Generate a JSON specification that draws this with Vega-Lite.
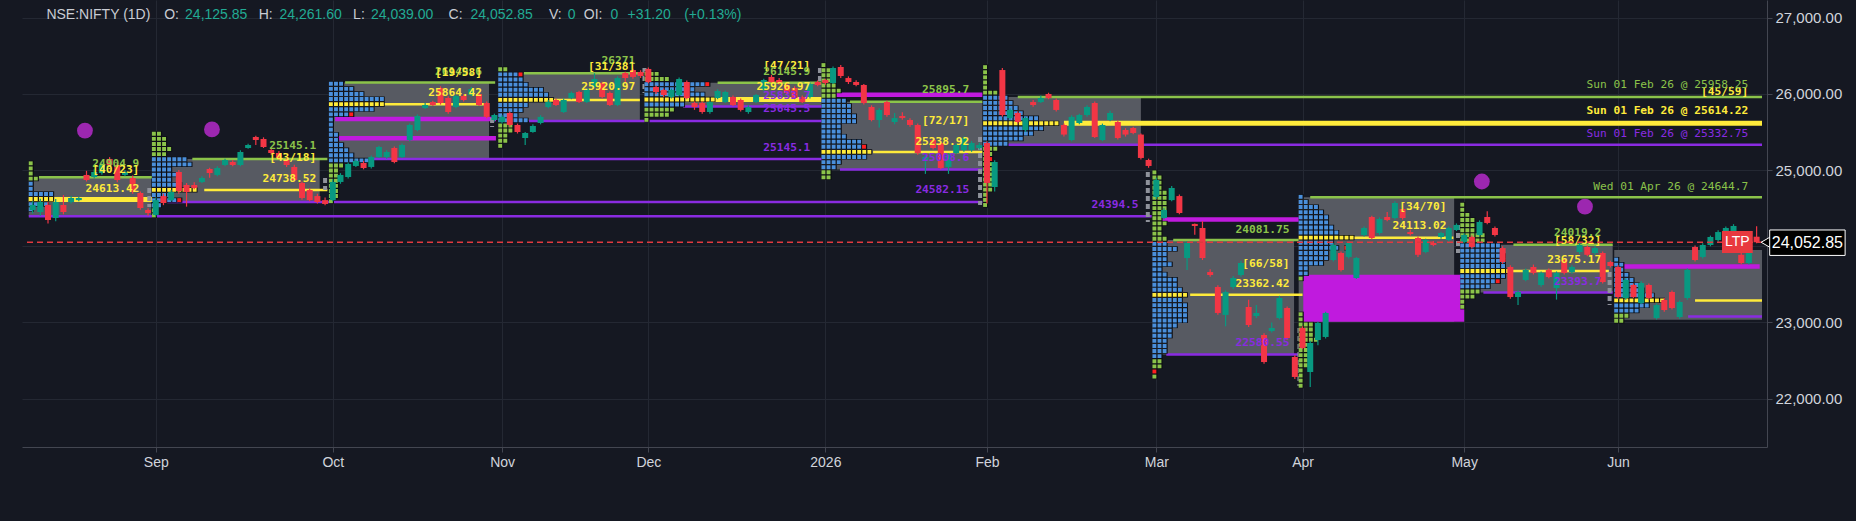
{
"$schema":"https://vega.github.io/schema/vega-lite/v6.json",
"width":1745,"height":447,
"autosize":{"type":"none"},
"padding":{"left":22,"top":0,"right":89,"bottom":74},
"background":"#151822",
"config":{"view":{"stroke":null},
 "axis":{"grid":true,"gridColor":"#242833","gridWidth":1,"domainColor":"#434651","tickColor":"#434651","tickSize":5,"labelColor":"#d1d4dc","labelFont":"Liberation Sans","labelPadding":3,"labelFlush":false,"labelOverlap":false},
 "axisX":{"labelFontSize":14},"axisY":{"labelFontSize":15}},
"resolve":{"scale":{"color":"independent"}},
"datasets":{
"candles":[
{"i":-16,"o":24476,"h":24590,"l":24430,"c":24542},{"i":-15,"o":24450,"h":24625,"l":24400,"c":24581},{"i":-14,"o":24542,"h":24580,"l":24300,"c":24345},{"i":-13,"o":24371,"h":24620,"l":24330,"c":24581},{"i":-12,"o":24542,"h":24672,"l":24420,"c":24450},{"i":-11,"o":24581,"h":24660,"l":24560,"c":24634},{"i":-10,"o":24606,"h":24650,"l":24590,"c":24634},{"i":-9,"o":24936,"h":24990,"l":24850,"c":24870},{"i":-8,"o":24909,"h":25010,"l":24890,"c":24975},{"i":-7,"o":24962,"h":25100,"l":24940,"c":25067},{"i":-6,"o":25146,"h":25170,"l":25050,"c":25067},{"i":-5,"o":25067,"h":25090,"l":24840,"c":24870},{"i":-4,"o":24936,"h":25000,"l":24920,"c":24975},{"i":-3,"o":24896,"h":24930,"l":24690,"c":24712},{"i":-2,"o":24699,"h":24720,"l":24480,"c":24502},{"i":-1,"o":24476,"h":24500,"l":24400,"c":24437},
{"i":0,"o":24411,"h":24640,"l":24390,"c":24606},{"i":1,"o":24659,"h":24690,"l":24540,"c":24568},{"i":2,"o":24606,"h":24740,"l":24590,"c":24712},{"i":3,"o":24975,"h":25000,"l":24690,"c":24725},{"i":4,"o":24804,"h":24830,"l":24520,"c":24712},{"i":5,"o":24804,"h":24840,"l":24750,"c":24765},{"i":6,"o":24844,"h":24920,"l":24830,"c":24896},{"i":7,"o":25014,"h":25030,"l":24900,"c":24962},{"i":8,"o":24936,"h":25050,"l":24920,"c":25027},{"i":9,"o":25067,"h":25150,"l":25050,"c":25132},{"i":10,"o":25106,"h":25130,"l":25050,"c":25067},{"i":11,"o":25067,"h":25260,"l":25050,"c":25237},{"i":12,"o":25290,"h":25345,"l":25280,"c":25329},{"i":13,"o":25434,"h":25450,"l":25330,"c":25395},{"i":14,"o":25408,"h":25430,"l":25290,"c":25303},{"i":15,"o":25264,"h":25290,"l":25200,"c":25224},{"i":16,"o":25224,"h":25250,"l":25140,"c":25159},{"i":17,"o":25132,"h":25160,"l":25040,"c":25067},{"i":18,"o":25041,"h":25070,"l":24850,"c":24870},{"i":19,"o":24831,"h":24850,"l":24610,"c":24634},{"i":20,"o":24738,"h":24760,"l":24590,"c":24606},{"i":21,"o":24659,"h":24690,"l":24560,"c":24581},{"i":22,"o":24606,"h":24640,"l":24540,"c":24555},
{"i":23,"o":24606,"h":24880,"l":24590,"c":24844},{"i":24,"o":24844,"h":24960,"l":24820,"c":24936},{"i":25,"o":24909,"h":25100,"l":24890,"c":25080},{"i":26,"o":25054,"h":25140,"l":25040,"c":25119},{"i":27,"o":25093,"h":25120,"l":25010,"c":25027},{"i":28,"o":25041,"h":25190,"l":25020,"c":25172},{"i":29,"o":25172,"h":25320,"l":25160,"c":25303},{"i":30,"o":25172,"h":25260,"l":25150,"c":25237},{"i":31,"o":25290,"h":25310,"l":25090,"c":25106},{"i":32,"o":25172,"h":25350,"l":25160,"c":25329},{"i":33,"o":25395,"h":25610,"l":25380,"c":25592},{"i":34,"o":25526,"h":25730,"l":25510,"c":25710},{"i":35,"o":25815,"h":25880,"l":25800,"c":25854},{"i":36,"o":25893,"h":25910,"l":25840,"c":25854},{"i":37,"o":26077,"h":26100,"l":25860,"c":25880},{"i":38,"o":25946,"h":25970,"l":25740,"c":25762},{"i":39,"o":25828,"h":25990,"l":25810,"c":25972},{"i":40,"o":25972,"h":25995,"l":25900,"c":25920},{"i":41,"o":25985,"h":26090,"l":25970,"c":26064},{"i":42,"o":25998,"h":26020,"l":25840,"c":25854},{"i":43,"o":25880,"h":25900,"l":25680,"c":25698},{"i":44,"o":25657,"h":25740,"l":25640,"c":25723},
{"i":45,"o":25631,"h":25720,"l":25610,"c":25698},{"i":46,"o":25749,"h":25770,"l":25570,"c":25592},{"i":47,"o":25592,"h":25610,"l":25480,"c":25500},{"i":48,"o":25421,"h":25500,"l":25330,"c":25487},{"i":49,"o":25500,"h":25600,"l":25490,"c":25579},{"i":50,"o":25618,"h":25720,"l":25600,"c":25698},{"i":51,"o":25828,"h":25920,"l":25810,"c":25893},{"i":52,"o":25920,"h":25940,"l":25840,"c":25854},{"i":53,"o":25762,"h":25940,"l":25750,"c":25920},{"i":54,"o":25946,"h":26030,"l":25930,"c":26012},{"i":55,"o":26025,"h":26040,"l":25880,"c":25893},{"i":56,"o":25893,"h":26080,"l":25880,"c":26064},{"i":57,"o":26090,"h":26271,"l":26080,"c":26195},{"i":58,"o":26143,"h":26160,"l":25940,"c":25959},{"i":59,"o":26012,"h":26030,"l":25840,"c":25854},{"i":60,"o":25854,"h":26230,"l":25840,"c":26208},{"i":61,"o":26274,"h":26290,"l":26150,"c":26208},{"i":62,"o":26313,"h":26330,"l":26200,"c":26222},{"i":63,"o":26287,"h":26310,"l":26210,"c":26235},
{"i":64,"o":26327,"h":26345,"l":26140,"c":26156},{"i":65,"o":26090,"h":26110,"l":26000,"c":26025},{"i":66,"o":26051,"h":26070,"l":25960,"c":25985},{"i":67,"o":25959,"h":26070,"l":25940,"c":26051},{"i":68,"o":25985,"h":26215,"l":25970,"c":26195},{"i":69,"o":26156,"h":26175,"l":25930,"c":25946},{"i":70,"o":25880,"h":25900,"l":25790,"c":25828},{"i":71,"o":25880,"h":25900,"l":25740,"c":25762},{"i":72,"o":25762,"h":25910,"l":25740,"c":25893},{"i":73,"o":25946,"h":26060,"l":25930,"c":26038},{"i":74,"o":25893,"h":26040,"l":25880,"c":26025},{"i":75,"o":25959,"h":25980,"l":25840,"c":25854},{"i":76,"o":25920,"h":25940,"l":25770,"c":25789},{"i":77,"o":25762,"h":25850,"l":25740,"c":25828},{"i":78,"o":25893,"h":26000,"l":25880,"c":25985},{"i":79,"o":26051,"h":26200,"l":26040,"c":26182},{"i":80,"o":26222,"h":26250,"l":26140,"c":26156},{"i":81,"o":26182,"h":26210,"l":26120,"c":26143},{"i":82,"o":26117,"h":26140,"l":26000,"c":26012},{"i":83,"o":26077,"h":26100,"l":25930,"c":25946},{"i":84,"o":25959,"h":25980,"l":25880,"c":25893},{"i":85,"o":25959,"h":26150,"l":25940,"c":26130},{"i":86,"o":26156,"h":26175,"l":26100,"c":26117},
{"i":87,"o":26182,"h":26200,"l":26120,"c":26143},{"i":88,"o":26143,"h":26360,"l":26130,"c":26340},{"i":89,"o":26353,"h":26380,"l":26210,"c":26235},{"i":90,"o":26208,"h":26230,"l":26130,"c":26156},{"i":91,"o":26156,"h":26180,"l":26100,"c":26117},{"i":92,"o":26117,"h":26130,"l":25860,"c":25880},{"i":93,"o":25828,"h":25850,"l":25640,"c":25657},{"i":94,"o":25657,"h":25810,"l":25560,"c":25789},{"i":95,"o":25893,"h":25910,"l":25700,"c":25723},{"i":96,"o":25631,"h":25750,"l":25600,"c":25683},{"i":97,"o":25710,"h":25760,"l":25660,"c":25683},{"i":98,"o":25657,"h":25680,"l":25570,"c":25592},{"i":99,"o":25592,"h":25610,"l":25200,"c":25224},{"i":100,"o":25132,"h":25200,"l":24950,"c":25172},{"i":101,"o":25395,"h":25420,"l":25270,"c":25290},{"i":102,"o":25356,"h":25380,"l":25010,"c":25027},{"i":103,"o":25041,"h":25220,"l":24950,"c":25198},{"i":104,"o":25224,"h":25350,"l":25210,"c":25329},{"i":105,"o":25264,"h":25440,"l":25240,"c":25421},{"i":106,"o":25264,"h":25380,"l":25240,"c":25356},{"i":107,"o":25290,"h":25360,"l":25270,"c":25329},
{"i":108,"o":25356,"h":25380,"l":24560,"c":24831},{"i":109,"o":24778,"h":25130,"l":24720,"c":25106},{"i":110,"o":26313,"h":26340,"l":25700,"c":25723},{"i":111,"o":25683,"h":25810,"l":25660,"c":25789},{"i":112,"o":25749,"h":25770,"l":25610,"c":25631},{"i":113,"o":25526,"h":25700,"l":25500,"c":25683},{"i":114,"o":25893,"h":25920,"l":25830,"c":25854},{"i":115,"o":25893,"h":25980,"l":25880,"c":25946},{"i":116,"o":25998,"h":26015,"l":25930,"c":25946},{"i":117,"o":25920,"h":25940,"l":25770,"c":25789},{"i":118,"o":25592,"h":25610,"l":25440,"c":25466},{"i":119,"o":25395,"h":25720,"l":25380,"c":25698},{"i":120,"o":25618,"h":25740,"l":25600,"c":25723},{"i":121,"o":25723,"h":25850,"l":25700,"c":25828},{"i":122,"o":25880,"h":25900,"l":25420,"c":25434},{"i":123,"o":25395,"h":25610,"l":25380,"c":25592},{"i":124,"o":25657,"h":25780,"l":25640,"c":25749},{"i":125,"o":25631,"h":25650,"l":25400,"c":25421},{"i":126,"o":25526,"h":25550,"l":25440,"c":25466},{"i":127,"o":25552,"h":25570,"l":25470,"c":25487},{"i":128,"o":25466,"h":25480,"l":25140,"c":25159},{"i":129,"o":25132,"h":25150,"l":25030,"c":25054},
{"i":130,"o":24647,"h":24900,"l":24620,"c":24870},{"i":131,"o":24371,"h":24500,"l":24350,"c":24476},{"i":132,"o":24606,"h":24790,"l":24590,"c":24765},{"i":133,"o":24659,"h":24680,"l":24420,"c":24437},{"i":134,"o":23846,"h":24070,"l":23690,"c":24043},{"i":135,"o":24293,"h":24300,"l":24150,"c":24266},{"i":136,"o":24240,"h":24330,"l":23820,"c":23846},{"i":137,"o":23662,"h":23700,"l":23600,"c":23623},{"i":138,"o":23466,"h":23490,"l":23100,"c":23125},{"i":139,"o":23099,"h":23420,"l":22950,"c":23400},{"i":140,"o":23466,"h":23610,"l":23440,"c":23584},{"i":141,"o":23623,"h":23810,"l":23600,"c":23781},{"i":142,"o":23203,"h":23300,"l":22940,"c":22967},{"i":143,"o":23085,"h":23230,"l":23060,"c":23125},{"i":144,"o":22836,"h":22860,"l":22460,"c":22481},{"i":145,"o":22888,"h":23000,"l":22870,"c":22928},{"i":146,"o":23059,"h":23350,"l":23040,"c":23321},{"i":147,"o":23190,"h":23210,"l":22770,"c":22796},{"i":148,"o":22547,"h":22570,"l":22260,"c":22285},
{"i":149,"o":22928,"h":22950,"l":22650,"c":22665},{"i":150,"o":22350,"h":22760,"l":22153,"c":22731},{"i":151,"o":22770,"h":23010,"l":22700,"c":22993},{"i":152,"o":22810,"h":23140,"l":22790,"c":23125},{"i":153,"o":23820,"h":24040,"l":23800,"c":24017},{"i":154,"o":23912,"h":23930,"l":23670,"c":23689},{"i":155,"o":23860,"h":24060,"l":23840,"c":24043},{"i":156,"o":23584,"h":23860,"l":23570,"c":23846},{"i":157,"o":24148,"h":24260,"l":24130,"c":24240},{"i":158,"o":24384,"h":24400,"l":24090,"c":24109},{"i":159,"o":24174,"h":24380,"l":24150,"c":24358},{"i":160,"o":24384,"h":24450,"l":24330,"c":24345},{"i":161,"o":24371,"h":24590,"l":24350,"c":24568},{"i":162,"o":24489,"h":24510,"l":24350,"c":24371},{"i":163,"o":24187,"h":24220,"l":24140,"c":24161},{"i":164,"o":24109,"h":24130,"l":23860,"c":23888},{"i":165,"o":23925,"h":24100,"l":23910,"c":24082},{"i":166,"o":24043,"h":24070,"l":24000,"c":24017},{"i":167,"o":24122,"h":24190,"l":24100,"c":24174},{"i":168,"o":24082,"h":24260,"l":24060,"c":24240},{"i":169,"o":24214,"h":24300,"l":24200,"c":24280},
{"i":170,"o":24056,"h":24170,"l":24040,"c":24148},{"i":171,"o":24122,"h":24140,"l":23970,"c":23991},{"i":172,"o":24148,"h":24340,"l":24130,"c":24319},{"i":173,"o":24384,"h":24460,"l":24290,"c":24306},{"i":174,"o":24240,"h":24260,"l":24130,"c":24148},{"i":175,"o":23977,"h":24000,"l":23770,"c":23794},{"i":176,"o":23728,"h":23750,"l":23310,"c":23334},{"i":177,"o":23334,"h":23420,"l":23230,"c":23400},{"i":178,"o":23558,"h":23710,"l":23540,"c":23689},{"i":179,"o":23728,"h":23760,"l":23630,"c":23650},{"i":180,"o":23492,"h":23670,"l":23470,"c":23650},{"i":181,"o":23689,"h":23710,"l":23580,"c":23597},{"i":182,"o":23452,"h":23670,"l":23300,"c":23650},{"i":183,"o":23820,"h":23840,"l":23630,"c":23650},{"i":184,"o":23662,"h":23750,"l":23640,"c":23728},{"i":185,"o":23925,"h":24040,"l":23900,"c":24017},{"i":186,"o":23991,"h":24010,"l":23870,"c":23888},{"i":187,"o":23912,"h":24000,"l":23890,"c":23977},{"i":188,"o":23912,"h":23930,"l":23510,"c":23531},{"i":189,"o":23794,"h":23810,"l":23720,"c":23741},
{"i":190,"o":23728,"h":23750,"l":23310,"c":23334},{"i":191,"o":23321,"h":23580,"l":23300,"c":23558},{"i":192,"o":23492,"h":23510,"l":23320,"c":23334},{"i":193,"o":23256,"h":23540,"l":23240,"c":23518},{"i":194,"o":23492,"h":23510,"l":23300,"c":23321},{"i":195,"o":23059,"h":23250,"l":23040,"c":23229},{"i":196,"o":23295,"h":23320,"l":23140,"c":23164},{"i":197,"o":23400,"h":23420,"l":23170,"c":23190},{"i":198,"o":23072,"h":23290,"l":23050,"c":23269},{"i":199,"o":23321,"h":23710,"l":23300,"c":23689},{"i":200,"o":23991,"h":24010,"l":23800,"c":23820},{"i":201,"o":23860,"h":24040,"l":23840,"c":24017},{"i":202,"o":24017,"h":24140,"l":24000,"c":24122},{"i":203,"o":24082,"h":24210,"l":24060,"c":24187},{"i":204,"o":24135,"h":24260,"l":24110,"c":24240},{"i":205,"o":24161,"h":24290,"l":24140,"c":24266},{"i":206,"o":23888,"h":24000,"l":23760,"c":23781},{"i":207,"o":23781,"h":24100,"l":23760,"c":24017},{"i":208,"o":24125.85,"h":24261.6,"l":24039,"c":24052.85}
],
"boxes":[
{"a":-16.5,"b":-0.6,"p1":24394.5,"p2":24904.9,"k":"va"},{"a":-0.5,"b":21.3,"p1":24582.15,"p2":25145.1,"k":"va"},{"a":22.5,"b":43.3,"p1":25145.1,"p2":26149.6,"k":"va"},{"a":44.5,"b":62.9,"p1":25645.5,"p2":26271,"k":"va"},{"a":63.5,"b":86.6,"p1":25833.7,"p2":26145.9,"k":"va"},{"a":86.5,"b":107.4,"p1":25008.6,"p2":25895.7,"k":"va"},{"a":107.5,"b":128,"p1":25332.75,"p2":25958.25,"k":"va"},{"a":129.5,"b":147.9,"p1":22580.55,"p2":24081.75,"k":"va"},{"a":148.5,"b":168.7,"p1":23010,"p2":24644.7,"k":"va"},{"a":169.5,"b":189.3,"p1":23393.7,"p2":24019.2,"k":"va"},{"a":189.5,"b":208.7,"p1":23036,"p2":23952,"k":"va"},
{"a":149.1,"b":170,"p1":23010,"p2":23627,"k":"sp"}
],
"lines":[
{"a":-15.3,"b":-0.5,"p":24904.9,"k":"vah"},{"a":4.75,"b":22.3,"p":25145.1,"k":"vah"},{"a":24.6,"b":44.1,"p":26149.6,"k":"vah"},{"a":47.8,"b":62.9,"p":26271,"k":"vah"},{"a":73,"b":86.6,"p":26145.9,"k":"vah"},{"a":90.2,"b":107.4,"p":25895.7,"k":"vah"},{"a":112,"b":208.7,"p":25958.25,"k":"vah"},{"a":132.2,"b":149,"p":24081.75,"k":"vah"},{"a":150,"b":208.7,"p":24644.7,"k":"vah"},{"a":176.4,"b":189.3,"p":24019.2,"k":"vah"},
{"a":6.3,"b":22.3,"p":24738.52,"k":"poc"},{"a":29,"b":43.3,"p":25864.42,"k":"poc"},{"a":51.5,"b":62.9,"p":25920.97,"k":"poc"},{"a":93.2,"b":107.4,"p":25238.92,"k":"poc"},{"a":134.4,"b":149,"p":23362.42,"k":"poc"},{"a":155.7,"b":168.6,"p":24113.02,"k":"poc"},{"a":175.9,"b":188.8,"p":23675.17,"k":"poc"},{"a":200,"b":208.7,"p":23290,"k":"poc"},
{"a":-16.5,"b":-0.4,"p":24613.42,"k":"pocT"},{"a":72,"b":86.6,"p":25926.97,"k":"pocT"},{"a":118,"b":208.7,"p":25614.22,"k":"pocT"},
{"a":-16.5,"b":129.4,"p":24394.5,"k":"val"},{"a":1.5,"b":107.4,"p":24582.15,"k":"val"},{"a":28.2,"b":86.7,"p":25145.1,"k":"val"},{"a":48.5,"b":86.7,"p":25645.5,"k":"val"},{"a":68.5,"b":86.6,"p":25833.7,"k":"val"},{"a":88.9,"b":107.4,"p":25008.6,"k":"val"},{"a":110.5,"b":208.7,"p":25332.75,"k":"val"},{"a":131.3,"b":149,"p":22580.55,"k":"val"},{"a":172.5,"b":189.3,"p":23393.7,"k":"val"},{"a":199.1,"b":208.7,"p":23080,"k":"val"},
{"a":23.3,"b":44.2,"p":25669,"k":"mag"},{"a":23.3,"b":44.2,"p":25419,"k":"mag"},{"a":88,"b":107.4,"p":25987,"k":"mag"},{"a":130.4,"b":149,"p":24352,"k":"mag"},{"a":190.4,"b":208.4,"p":23736,"k":"mag"}
],
"marks":[
{"i":-0.84,"p1":24765,"p2":24516},{"i":22.0,"p1":24896,"p2":24738},{"i":43.7,"p1":25683,"p2":25566},{"i":63.5,"p1":26340,"p2":26012},{"i":86.3,"p1":26340,"p2":26117},{"i":107.1,"p1":25434,"p2":24542},{"i":128.9,"p1":24975,"p2":24319},{"i":148.6,"p1":22928,"p2":22167},{"i":169.2,"p1":24280,"p2":23912},{"i":188.9,"p1":23662,"p2":23229}
],
"prof":[
{"a":-16.5,"b":-15.84,"p":25089,"k":"g"},{"a":-16.5,"b":-15.84,"p":25022,"k":"g"},{"a":-16.5,"b":-15.84,"p":24955,"k":"g"},{"a":-16.5,"b":-15.18,"p":24888,"k":"g"},{"a":-16.5,"b":-15.84,"p":24821,"k":"b"},{"a":-16.5,"b":-15.84,"p":24754,"k":"b"},{"a":-16.5,"b":-13.2,"p":24687,"k":"b"},{"a":-16.5,"b":-13.2,"p":24620,"k":"y"},{"a":-16.5,"b":-13.86,"p":24553,"k":"b"},{"a":-16.5,"b":-15.84,"p":24486,"k":"b"},
{"a":-0.5,"b":0.82,"p":25477,"k":"g"},{"a":-0.5,"b":1.48,"p":25410,"k":"g"},{"a":-0.5,"b":1.48,"p":25343,"k":"g"},{"a":-0.5,"b":2.14,"p":25276,"k":"g"},{"a":-0.5,"b":1.48,"p":25209,"k":"g"},{"a":-0.5,"b":4.11,"p":25142,"k":"b"},{"a":-0.5,"b":4.77,"p":25075,"k":"b"},{"a":-0.5,"b":2.14,"p":25008,"k":"b"},{"a":-0.5,"b":2.8,"p":24941,"k":"b"},{"a":-0.5,"b":2.14,"p":24874,"k":"b"},{"a":-0.5,"b":3.45,"p":24807,"k":"b"},{"a":-0.5,"b":5.43,"p":24740,"k":"y"},{"a":-0.5,"b":2.14,"p":24673,"k":"b"},{"a":-0.5,"b":2.8,"p":24606,"k":"b"},{"a":2.8,"b":3.46,"p":24606,"k":"r"},{"a":-0.5,"b":0.82,"p":24539,"k":"b"},{"a":-0.5,"b":0.16,"p":24472,"k":"g"},{"a":-0.5,"b":0.16,"p":24405,"k":"g"},
{"a":22.5,"b":24.48,"p":26133,"k":"b"},{"a":22.5,"b":25.8,"p":26066,"k":"b"},{"a":22.5,"b":27.11,"p":25999,"k":"b"},{"a":22.5,"b":29.75,"p":25932,"k":"b"},{"a":22.5,"b":29.75,"p":25865,"k":"y"},{"a":22.5,"b":28.43,"p":25798,"k":"b"},{"a":22.5,"b":25.14,"p":25731,"k":"b"},{"a":25.14,"b":25.8,"p":25731,"k":"r"},{"a":22.5,"b":23.16,"p":25664,"k":"b"},{"a":22.5,"b":23.16,"p":25597,"k":"b"},{"a":22.5,"b":23.16,"p":25530,"k":"b"},{"a":22.5,"b":23.82,"p":25463,"k":"b"},{"a":22.5,"b":23.82,"p":25396,"k":"b"},{"a":22.5,"b":24.48,"p":25329,"k":"b"},{"a":22.5,"b":25.14,"p":25262,"k":"b"},{"a":22.5,"b":25.8,"p":25195,"k":"b"},{"a":22.5,"b":27.77,"p":25128,"k":"b"},{"a":22.5,"b":24.48,"p":25061,"k":"g"},{"a":22.5,"b":23.82,"p":24994,"k":"g"},{"a":22.5,"b":23.82,"p":24927,"k":"g"},{"a":22.5,"b":23.82,"p":24860,"k":"g"},{"a":22.5,"b":23.82,"p":24793,"k":"g"},{"a":22.5,"b":23.82,"p":24726,"k":"g"},{"a":22.5,"b":23.82,"p":24659,"k":"g"},{"a":22.5,"b":23.16,"p":24592,"k":"g"},
{"a":44.5,"b":45.82,"p":26323,"k":"g"},{"a":44.5,"b":47.14,"p":26256,"k":"b"},{"a":47.14,"b":47.8,"p":26256,"k":"r"},{"a":44.5,"b":47.8,"p":26189,"k":"b"},{"a":44.5,"b":48.45,"p":26122,"k":"b"},{"a":44.5,"b":50.43,"p":26055,"k":"b"},{"a":44.5,"b":51.09,"p":25988,"k":"b"},{"a":44.5,"b":51.75,"p":25921,"k":"y"},{"a":44.5,"b":48.45,"p":25854,"k":"b"},{"a":44.5,"b":47.8,"p":25787,"k":"b"},{"a":44.5,"b":47.14,"p":25720,"k":"b"},{"a":44.5,"b":48.45,"p":25653,"k":"b"},{"a":44.5,"b":46.48,"p":25586,"k":"g"},{"a":44.5,"b":46.48,"p":25519,"k":"g"},{"a":44.5,"b":45.82,"p":25452,"k":"g"},{"a":44.5,"b":45.82,"p":25385,"k":"g"},{"a":44.5,"b":45.16,"p":25318,"k":"g"},
{"a":63.5,"b":65.48,"p":26262,"k":"g"},{"a":63.5,"b":66.8,"p":26195,"k":"g"},{"a":63.5,"b":71.41,"p":26128,"k":"b"},{"a":71.41,"b":72.07,"p":26128,"k":"r"},{"a":63.5,"b":70.09,"p":26061,"k":"b"},{"a":63.5,"b":71.41,"p":25994,"k":"b"},{"a":63.5,"b":72.73,"p":25927,"k":"y"},{"a":63.5,"b":68.77,"p":25860,"k":"b"},{"a":63.5,"b":67.45,"p":25793,"k":"g"},{"a":63.5,"b":66.8,"p":25726,"k":"g"},{"a":63.5,"b":64.16,"p":25659,"k":"g"},
{"a":86.5,"b":87.16,"p":26378,"k":"g"},{"a":86.5,"b":87.82,"p":26311,"k":"g"},{"a":86.5,"b":87.82,"p":26244,"k":"g"},{"a":86.5,"b":87.82,"p":26177,"k":"g"},{"a":86.5,"b":88.48,"p":26110,"k":"g"},{"a":86.5,"b":89.14,"p":26043,"k":"g"},{"a":86.5,"b":88.48,"p":25976,"k":"g"},{"a":86.5,"b":89.8,"p":25909,"k":"b"},{"a":86.5,"b":90.45,"p":25842,"k":"b"},{"a":86.5,"b":90.45,"p":25775,"k":"b"},{"a":86.5,"b":91.11,"p":25708,"k":"b"},{"a":86.5,"b":91.11,"p":25641,"k":"b"},{"a":86.5,"b":89.14,"p":25574,"k":"b"},{"a":86.5,"b":89.14,"p":25507,"k":"b"},{"a":86.5,"b":89.8,"p":25440,"k":"b"},{"a":86.5,"b":91.77,"p":25373,"k":"b"},{"a":86.5,"b":91.77,"p":25306,"k":"b"},{"a":91.77,"b":92.43,"p":25306,"k":"r"},{"a":86.5,"b":93.09,"p":25239,"k":"y"},{"a":86.5,"b":92.43,"p":25172,"k":"b"},{"a":86.5,"b":89.14,"p":25105,"k":"b"},{"a":86.5,"b":88.48,"p":25038,"k":"b"},{"a":86.5,"b":87.82,"p":24971,"k":"g"},{"a":86.5,"b":87.82,"p":24904,"k":"g"},
{"a":107.5,"b":108.16,"p":26351,"k":"g"},{"a":107.5,"b":108.16,"p":26284,"k":"g"},{"a":107.5,"b":108.16,"p":26217,"k":"g"},{"a":107.5,"b":108.16,"p":26150,"k":"g"},{"a":107.5,"b":108.16,"p":26083,"k":"g"},{"a":107.5,"b":109.48,"p":26016,"k":"g"},{"a":107.5,"b":110.8,"p":25949,"k":"b"},{"a":107.5,"b":111.45,"p":25882,"k":"b"},{"a":107.5,"b":112.11,"p":25815,"k":"b"},{"a":107.5,"b":112.77,"p":25748,"k":"b"},{"a":107.5,"b":114.75,"p":25681,"k":"b"},{"a":107.5,"b":117.39,"p":25614,"k":"y"},{"a":107.5,"b":115.41,"p":25547,"k":"b"},{"a":107.5,"b":114.09,"p":25480,"k":"b"},{"a":107.5,"b":112.77,"p":25413,"k":"b"},{"a":107.5,"b":110.8,"p":25346,"k":"b"},{"a":107.5,"b":109.48,"p":25279,"k":"g"},{"a":107.5,"b":108.82,"p":25212,"k":"g"},{"a":107.5,"b":108.16,"p":25145,"k":"g"},{"a":108.16,"b":108.82,"p":25145,"k":"r"},{"a":107.5,"b":108.82,"p":25078,"k":"g"},{"a":107.5,"b":108.82,"p":25011,"k":"g"},{"a":107.5,"b":108.82,"p":24944,"k":"g"},{"a":107.5,"b":108.82,"p":24877,"k":"g"},{"a":107.5,"b":108.82,"p":24810,"k":"g"},{"a":107.5,"b":108.82,"p":24743,"k":"g"},{"a":107.5,"b":108.16,"p":24676,"k":"g"},{"a":107.5,"b":108.16,"p":24609,"k":"g"},{"a":107.5,"b":108.16,"p":24542,"k":"g"},
{"a":129.5,"b":130.16,"p":24970,"k":"g"},{"a":129.5,"b":130.82,"p":24903,"k":"g"},{"a":129.5,"b":130.82,"p":24836,"k":"g"},{"a":129.5,"b":130.82,"p":24769,"k":"g"},{"a":129.5,"b":131.48,"p":24702,"k":"g"},{"a":129.5,"b":131.48,"p":24635,"k":"g"},{"a":129.5,"b":131.48,"p":24568,"k":"g"},{"a":129.5,"b":131.48,"p":24501,"k":"g"},{"a":129.5,"b":130.82,"p":24434,"k":"g"},{"a":129.5,"b":130.82,"p":24367,"k":"g"},{"a":129.5,"b":131.48,"p":24300,"k":"g"},{"a":129.5,"b":130.82,"p":24233,"k":"g"},{"a":129.5,"b":130.82,"p":24166,"k":"g"},{"a":129.5,"b":131.48,"p":24099,"k":"g"},{"a":129.5,"b":131.48,"p":24032,"k":"b"},{"a":129.5,"b":132.8,"p":23965,"k":"b"},{"a":129.5,"b":131.48,"p":23898,"k":"b"},{"a":129.5,"b":131.48,"p":23831,"k":"b"},{"a":129.5,"b":132.14,"p":23764,"k":"b"},{"a":129.5,"b":130.82,"p":23697,"k":"b"},{"a":129.5,"b":131.48,"p":23630,"k":"b"},{"a":129.5,"b":132.8,"p":23563,"k":"b"},{"a":129.5,"b":132.8,"p":23496,"k":"b"},{"a":129.5,"b":133.45,"p":23429,"k":"b"},{"a":129.5,"b":134.11,"p":23362,"k":"y"},{"a":129.5,"b":133.45,"p":23295,"k":"b"},{"a":129.5,"b":134.11,"p":23228,"k":"b"},{"a":129.5,"b":134.11,"p":23161,"k":"b"},{"a":129.5,"b":134.11,"p":23094,"k":"b"},{"a":129.5,"b":134.11,"p":23027,"k":"b"},{"a":129.5,"b":132.8,"p":22960,"k":"b"},{"a":129.5,"b":132.14,"p":22893,"k":"b"},{"a":129.5,"b":132.14,"p":22826,"k":"b"},{"a":129.5,"b":131.48,"p":22759,"k":"b"},{"a":129.5,"b":131.48,"p":22692,"k":"b"},{"a":129.5,"b":131.48,"p":22625,"k":"b"},{"a":129.5,"b":130.82,"p":22558,"k":"b"},{"a":129.5,"b":130.82,"p":22491,"k":"g"},{"a":129.5,"b":130.82,"p":22424,"k":"g"},{"a":129.5,"b":130.16,"p":22357,"k":"r"},{"a":129.5,"b":130.16,"p":22290,"k":"g"},
{"a":148.5,"b":149.16,"p":24649,"k":"b"},{"a":148.5,"b":149.82,"p":24582,"k":"b"},{"a":148.5,"b":151.14,"p":24515,"k":"b"},{"a":148.5,"b":151.8,"p":24448,"k":"b"},{"a":148.5,"b":152.45,"p":24381,"k":"b"},{"a":148.5,"b":152.45,"p":24314,"k":"b"},{"a":148.5,"b":153.11,"p":24247,"k":"b"},{"a":148.5,"b":153.77,"p":24180,"k":"b"},{"a":148.5,"b":155.75,"p":24113,"k":"y"},{"a":148.5,"b":153.11,"p":24046,"k":"b"},{"a":148.5,"b":153.77,"p":23979,"k":"b"},{"a":154.43,"b":155.09,"p":23979,"k":"r"},{"a":148.5,"b":152.45,"p":23912,"k":"b"},{"a":148.5,"b":152.45,"p":23845,"k":"b"},{"a":148.5,"b":151.8,"p":23778,"k":"b"},{"a":148.5,"b":149.82,"p":23711,"k":"b"},{"a":148.5,"b":149.82,"p":23644,"k":"b"},{"a":148.5,"b":149.16,"p":23577,"k":"g"},{"a":148.5,"b":149.16,"p":23108,"k":"g"},{"a":148.5,"b":149.16,"p":23041,"k":"g"},{"a":148.5,"b":150.48,"p":22974,"k":"g"},{"a":148.5,"b":150.48,"p":22907,"k":"g"},{"a":148.5,"b":150.48,"p":22840,"k":"g"},{"a":148.5,"b":151.14,"p":22773,"k":"g"},{"a":148.5,"b":149.82,"p":22706,"k":"g"},{"a":148.5,"b":149.82,"p":22639,"k":"g"},{"a":148.5,"b":149.82,"p":22572,"k":"g"},{"a":148.5,"b":149.82,"p":22505,"k":"g"},{"a":148.5,"b":149.82,"p":22438,"k":"g"},{"a":148.5,"b":149.16,"p":22371,"k":"g"},{"a":148.5,"b":149.16,"p":22304,"k":"g"},{"a":148.5,"b":149.16,"p":22237,"k":"g"},{"a":148.5,"b":149.16,"p":22170,"k":"g"},
{"a":169.5,"b":170.16,"p":24546,"k":"g"},{"a":169.5,"b":170.16,"p":24479,"k":"g"},{"a":169.5,"b":170.82,"p":24412,"k":"g"},{"a":169.5,"b":171.48,"p":24345,"k":"g"},{"a":169.5,"b":171.48,"p":24278,"k":"g"},{"a":169.5,"b":171.48,"p":24211,"k":"g"},{"a":169.5,"b":172.8,"p":24144,"k":"g"},{"a":169.5,"b":172.8,"p":24077,"k":"g"},{"a":169.5,"b":174.77,"p":24010,"k":"b"},{"a":169.5,"b":174.77,"p":23943,"k":"b"},{"a":169.5,"b":175.43,"p":23876,"k":"b"},{"a":169.5,"b":175.43,"p":23809,"k":"b"},{"a":169.5,"b":175.43,"p":23742,"k":"b"},{"a":169.5,"b":176.09,"p":23675,"k":"y"},{"a":169.5,"b":175.43,"p":23608,"k":"b"},{"a":169.5,"b":174.11,"p":23541,"k":"b"},{"a":174.11,"b":174.77,"p":23541,"k":"r"},{"a":169.5,"b":173.45,"p":23474,"k":"b"},{"a":169.5,"b":172.14,"p":23407,"k":"g"},{"a":169.5,"b":171.48,"p":23340,"k":"g"},{"a":169.5,"b":170.16,"p":23273,"k":"g"},{"a":169.5,"b":170.16,"p":23206,"k":"g"},
{"a":189.5,"b":190.16,"p":23826,"k":"b"},{"a":189.5,"b":190.82,"p":23759,"k":"b"},{"a":189.5,"b":190.82,"p":23692,"k":"b"},{"a":189.5,"b":191.48,"p":23625,"k":"b"},{"a":189.5,"b":192.14,"p":23558,"k":"b"},{"a":189.5,"b":192.8,"p":23491,"k":"b"},{"a":189.5,"b":193.45,"p":23424,"k":"b"},{"a":189.5,"b":194.77,"p":23357,"k":"b"},{"a":189.5,"b":196.09,"p":23290,"k":"y"},{"a":189.5,"b":194.11,"p":23223,"k":"b"},{"a":189.5,"b":192.8,"p":23156,"k":"b"},{"a":189.5,"b":191.48,"p":23089,"k":"g"},{"a":189.5,"b":190.82,"p":23022,"k":"g"}
],
"circles":[{"i":-9.2,"p":25518},{"i":7.3,"p":25534},{"i":172.3,"p":24850},{"i":185.7,"p":24520}],
"labs":[
{"i":-2.13,"p":25086,"t":"24904.9","k":"g"},{"i":-2.13,"p":25001,"t":"[40/23]","k":"y"},{"i":-2.13,"p":24752,"t":"24613.42","k":"y"},
{"i":20.86,"p":25316,"t":"25145.1","k":"g"},{"i":20.86,"p":25152,"t":"[43/18]","k":"y"},{"i":20.86,"p":24883,"t":"24738.52","k":"y"},
{"i":42.4,"p":26287,"t":"26149.6","k":"g"},{"i":42.4,"p":26274,"t":"[19/58]","k":"y"},{"i":42.4,"p":26018,"t":"25864.42","k":"y"},
{"i":62.3,"p":26431,"t":"26271","k":"g"},{"i":62.3,"p":26353,"t":"[31/38]","k":"y"},{"i":62.3,"p":26090,"t":"25920.97","k":"y"},
{"i":85.05,"p":26366,"t":"[47/21]","k":"y"},{"i":85.05,"p":26281,"t":"26145.9","k":"g"},{"i":85.05,"p":26084,"t":"25926.97","k":"y"},{"i":85.05,"p":25972,"t":"25833.7","k":"v"},{"i":85.05,"p":25802,"t":"25645.5","k":"v"},{"i":85.05,"p":25296,"t":"25145.1","k":"v"},
{"i":105.7,"p":26051,"t":"25895.7","k":"g"},{"i":105.7,"p":25644,"t":"[72/17]","k":"y"},{"i":105.7,"p":25368,"t":"25238.92","k":"y"},{"i":105.7,"p":25152,"t":"25008.6","k":"v"},{"i":105.7,"p":24738,"t":"24582.15","k":"v"},
{"i":127.7,"p":24542,"t":"24394.5","k":"v"},
{"i":147.3,"p":24214,"t":"24081.75","k":"g"},{"i":147.3,"p":23767,"t":"[66/58]","k":"y"},{"i":147.3,"p":23505,"t":"23362.42","k":"y"},{"i":147.3,"p":22731,"t":"22580.55","k":"v"},
{"i":167.7,"p":24516,"t":"[34/70]","k":"y"},{"i":167.7,"p":24266,"t":"24113.02","k":"y"},
{"i":187.8,"p":24168,"t":"24019.2","k":"g"},{"i":187.8,"p":24069,"t":"[58/32]","k":"y"},{"i":187.8,"p":23820,"t":"23675.17","k":"y"},{"i":187.8,"p":23531,"t":"23393.7","k":"v"},
{"i":206.9,"p":26025,"t":"[45/59]","k":"y"},{"i":206.9,"p":25775,"t":"Sun 01 Feb 26 @ 25614.22","k":"y"}
],
"rlabs":[
{"i":206.9,"p":26117,"t":"Sun 01 Feb 26 @ 25958.25","k":"g"},{"i":206.9,"p":25473,"t":"Sun 01 Feb 26 @ 25332.75","k":"v"},{"i":206.9,"p":24784,"t":"Wed 01 Apr 26 @ 24644.7","k":"g"}
],
"header":[
{"t":"NSE:NIFTY (1D)","i":-14.21,"p":27035,"k":"l"},{"t":"O:","i":1.10,"p":27035,"k":"l"},{"t":"24,125.85","i":3.81,"p":27035,"k":"v"},{"t":"H:","i":13.37,"p":27035,"k":"l"},{"t":"24,261.60","i":16.08,"p":27035,"k":"v"},{"t":"L:","i":25.64,"p":27035,"k":"l"},{"t":"24,039.00","i":27.97,"p":27035,"k":"v"},{"t":"C:","i":38.04,"p":27035,"k":"l"},{"t":"24,052.85","i":40.89,"p":27035,"k":"v"},{"t":"V:","i":51.09,"p":27035,"k":"l"},{"t":"0","i":53.54,"p":27035,"k":"v"},{"t":"OI:","i":55.61,"p":27035,"k":"l"},{"t":"0","i":59.10,"p":27035,"k":"v"},{"t":"+31.20","i":61.30,"p":27035,"k":"v"},{"t":"(+0.13%)","i":68.66,"p":27035,"k":"v"}
]
},
"layer":[
{"data":{"name":"boxes"},"transform":[{"filter":"datum.k=='va'"}],
 "mark":{"type":"rect","color":"#575a62"},
 "encoding":{
  "x":{"field":"a","type":"quantitative","scale":{"domain":[-16.73,208.7],"nice":false,"zero":false},"axis":{"values":[0,23,45,64,87,108,130,149,170,190],"labelExpr":"datum.value==0?'Sep':datum.value==23?'Oct':datum.value==45?'Nov':datum.value==64?'Dec':datum.value==87?'2026':datum.value==108?'Feb':datum.value==130?'Mar':datum.value==149?'Apr':datum.value==170?'May':'Jun'","title":null}},
  "x2":{"field":"b"},
  "y":{"field":"p1","type":"quantitative","scale":{"domain":[21366,27232],"nice":false,"zero":false},"axis":{"orient":"right","values":[22000,23000,24000,25000,26000,27000],"format":",.2f","labelExpr":"datum.value==24000?'':datum.label","title":null}},
  "y2":{"field":"p2"}}},
{"data":{"name":"boxes"},"transform":[{"filter":"datum.k=='sp'"}],
 "mark":{"type":"rect","color":"#c01ade"},
 "encoding":{"x":{"field":"a","type":"quantitative","scale":{"domain":[-16.73,208.7],"nice":false,"zero":false},"axis":{"values":[0,23,45,64,87,108,130,149,170,190],"labelExpr":"datum.value==0?'Sep':datum.value==23?'Oct':datum.value==45?'Nov':datum.value==64?'Dec':datum.value==87?'2026':datum.value==108?'Feb':datum.value==130?'Mar':datum.value==149?'Apr':datum.value==170?'May':'Jun'","title":null}},"x2":{"field":"b"},
  "y":{"field":"p1","type":"quantitative","scale":{"domain":[21366,27232],"nice":false,"zero":false},"axis":{"orient":"right","values":[22000,23000,24000,25000,26000,27000],"format":",.2f","labelExpr":"datum.value==24000?'':datum.label","title":null}},"y2":{"field":"p2"}}},
{"data":{"name":"lines"},"transform":[{"filter":"datum.k=='val'"}],
 "mark":{"type":"rule","color":"#8a2be2","strokeWidth":2.5},
 "encoding":{"x":{"field":"a","type":"quantitative","scale":{"domain":[-16.73,208.7],"nice":false,"zero":false},"axis":{"values":[0,23,45,64,87,108,130,149,170,190],"labelExpr":"datum.value==0?'Sep':datum.value==23?'Oct':datum.value==45?'Nov':datum.value==64?'Dec':datum.value==87?'2026':datum.value==108?'Feb':datum.value==130?'Mar':datum.value==149?'Apr':datum.value==170?'May':'Jun'","title":null}},"x2":{"field":"b"},
  "y":{"field":"p","type":"quantitative","scale":{"domain":[21366,27232],"nice":false,"zero":false},"axis":{"orient":"right","values":[22000,23000,24000,25000,26000,27000],"format":",.2f","labelExpr":"datum.value==24000?'':datum.label","title":null}}}},
{"data":{"name":"lines"},"transform":[{"filter":"datum.k=='mag'"}],
 "mark":{"type":"rule","color":"#c01ade","strokeWidth":4.5},
 "encoding":{"x":{"field":"a","type":"quantitative","scale":{"domain":[-16.73,208.7],"nice":false,"zero":false},"axis":{"values":[0,23,45,64,87,108,130,149,170,190],"labelExpr":"datum.value==0?'Sep':datum.value==23?'Oct':datum.value==45?'Nov':datum.value==64?'Dec':datum.value==87?'2026':datum.value==108?'Feb':datum.value==130?'Mar':datum.value==149?'Apr':datum.value==170?'May':'Jun'","title":null}},"x2":{"field":"b"},
  "y":{"field":"p","type":"quantitative","scale":{"domain":[21366,27232],"nice":false,"zero":false},"axis":{"orient":"right","values":[22000,23000,24000,25000,26000,27000],"format":",.2f","labelExpr":"datum.value==24000?'':datum.label","title":null}}}},
{"data":{"name":"lines"},"transform":[{"filter":"datum.k=='vah'"}],
 "mark":{"type":"rule","color":"#8bc34a","strokeWidth":2.5},
 "encoding":{"x":{"field":"a","type":"quantitative","scale":{"domain":[-16.73,208.7],"nice":false,"zero":false},"axis":{"values":[0,23,45,64,87,108,130,149,170,190],"labelExpr":"datum.value==0?'Sep':datum.value==23?'Oct':datum.value==45?'Nov':datum.value==64?'Dec':datum.value==87?'2026':datum.value==108?'Feb':datum.value==130?'Mar':datum.value==149?'Apr':datum.value==170?'May':'Jun'","title":null}},"x2":{"field":"b"},
  "y":{"field":"p","type":"quantitative","scale":{"domain":[21366,27232],"nice":false,"zero":false},"axis":{"orient":"right","values":[22000,23000,24000,25000,26000,27000],"format":",.2f","labelExpr":"datum.value==24000?'':datum.label","title":null}}}},
{"data":{"name":"lines"},"transform":[{"filter":"datum.k=='poc'"}],
 "mark":{"type":"rule","color":"#ffeb3b","strokeWidth":2.5},
 "encoding":{"x":{"field":"a","type":"quantitative","scale":{"domain":[-16.73,208.7],"nice":false,"zero":false},"axis":{"values":[0,23,45,64,87,108,130,149,170,190],"labelExpr":"datum.value==0?'Sep':datum.value==23?'Oct':datum.value==45?'Nov':datum.value==64?'Dec':datum.value==87?'2026':datum.value==108?'Feb':datum.value==130?'Mar':datum.value==149?'Apr':datum.value==170?'May':'Jun'","title":null}},"x2":{"field":"b"},
  "y":{"field":"p","type":"quantitative","scale":{"domain":[21366,27232],"nice":false,"zero":false},"axis":{"orient":"right","values":[22000,23000,24000,25000,26000,27000],"format":",.2f","labelExpr":"datum.value==24000?'':datum.label","title":null}}}},
{"data":{"name":"lines"},"transform":[{"filter":"datum.k=='pocT'"}],
 "mark":{"type":"rule","color":"#ffeb3b","strokeWidth":5},
 "encoding":{"x":{"field":"a","type":"quantitative","scale":{"domain":[-16.73,208.7],"nice":false,"zero":false},"axis":{"values":[0,23,45,64,87,108,130,149,170,190],"labelExpr":"datum.value==0?'Sep':datum.value==23?'Oct':datum.value==45?'Nov':datum.value==64?'Dec':datum.value==87?'2026':datum.value==108?'Feb':datum.value==130?'Mar':datum.value==149?'Apr':datum.value==170?'May':'Jun'","title":null}},"x2":{"field":"b"},
  "y":{"field":"p","type":"quantitative","scale":{"domain":[21366,27232],"nice":false,"zero":false},"axis":{"orient":"right","values":[22000,23000,24000,25000,26000,27000],"format":",.2f","labelExpr":"datum.value==24000?'':datum.label","title":null}}}},
{"data":{"name":"marks"},
 "mark":{"type":"rule","color":"#8f929b","strokeWidth":4,"strokeDash":[5,3]},
 "encoding":{"x":{"field":"i","type":"quantitative","scale":{"domain":[-16.73,208.7],"nice":false,"zero":false},"axis":{"values":[0,23,45,64,87,108,130,149,170,190],"labelExpr":"datum.value==0?'Sep':datum.value==23?'Oct':datum.value==45?'Nov':datum.value==64?'Dec':datum.value==87?'2026':datum.value==108?'Feb':datum.value==130?'Mar':datum.value==149?'Apr':datum.value==170?'May':'Jun'","title":null}},
  "y":{"field":"p1","type":"quantitative","scale":{"domain":[21366,27232],"nice":false,"zero":false},"axis":{"orient":"right","values":[22000,23000,24000,25000,26000,27000],"format":",.2f","labelExpr":"datum.value==24000?'':datum.label","title":null}},"y2":{"field":"p2"}}},
{"data":{"name":"prof"},
 "mark":{"type":"rule","color":"#0c0e13","strokeWidth":5.2},
 "encoding":{"x":{"field":"a","type":"quantitative","scale":{"domain":[-16.73,208.7],"nice":false,"zero":false},"axis":{"values":[0,23,45,64,87,108,130,149,170,190],"labelExpr":"datum.value==0?'Sep':datum.value==23?'Oct':datum.value==45?'Nov':datum.value==64?'Dec':datum.value==87?'2026':datum.value==108?'Feb':datum.value==130?'Mar':datum.value==149?'Apr':datum.value==170?'May':'Jun'","title":null}},"x2":{"field":"b"},
  "y":{"field":"p","type":"quantitative","scale":{"domain":[21366,27232],"nice":false,"zero":false},"axis":{"orient":"right","values":[22000,23000,24000,25000,26000,27000],"format":",.2f","labelExpr":"datum.value==24000?'':datum.label","title":null}}}},
{"data":{"name":"prof"},
 "mark":{"type":"rule","strokeWidth":3.9,"strokeDash":[3.9,1.2]},
 "encoding":{"x":{"field":"a","type":"quantitative","scale":{"domain":[-16.73,208.7],"nice":false,"zero":false},"axis":{"values":[0,23,45,64,87,108,130,149,170,190],"labelExpr":"datum.value==0?'Sep':datum.value==23?'Oct':datum.value==45?'Nov':datum.value==64?'Dec':datum.value==87?'2026':datum.value==108?'Feb':datum.value==130?'Mar':datum.value==149?'Apr':datum.value==170?'May':'Jun'","title":null}},"x2":{"field":"b"},
  "y":{"field":"p","type":"quantitative","scale":{"domain":[21366,27232],"nice":false,"zero":false},"axis":{"orient":"right","values":[22000,23000,24000,25000,26000,27000],"format":",.2f","labelExpr":"datum.value==24000?'':datum.label","title":null}},
  "color":{"field":"k","type":"nominal","scale":{"domain":["b","g","y","r"],"range":["#4a8fdb","#8bc34a","#ffeb3b","#ff1f1f"]},"legend":null}}},
{"data":{"name":"candles"},
 "mark":{"type":"rule","strokeWidth":1.2},
 "encoding":{"x":{"field":"i","type":"quantitative","scale":{"domain":[-16.73,208.7],"nice":false,"zero":false},"axis":{"values":[0,23,45,64,87,108,130,149,170,190],"labelExpr":"datum.value==0?'Sep':datum.value==23?'Oct':datum.value==45?'Nov':datum.value==64?'Dec':datum.value==87?'2026':datum.value==108?'Feb':datum.value==130?'Mar':datum.value==149?'Apr':datum.value==170?'May':'Jun'","title":null}},
  "y":{"field":"l","type":"quantitative","scale":{"domain":[21366,27232],"nice":false,"zero":false},"axis":{"orient":"right","values":[22000,23000,24000,25000,26000,27000],"format":",.2f","labelExpr":"datum.value==24000?'':datum.label","title":null}},"y2":{"field":"h"},
  "color":{"condition":{"test":"datum.c>=datum.o","value":"#089981"},"value":"#f23645"}}},
{"data":{"name":"candles"},
 "mark":{"type":"bar","width":6},
 "encoding":{"x":{"field":"i","type":"quantitative","scale":{"domain":[-16.73,208.7],"nice":false,"zero":false},"axis":{"values":[0,23,45,64,87,108,130,149,170,190],"labelExpr":"datum.value==0?'Sep':datum.value==23?'Oct':datum.value==45?'Nov':datum.value==64?'Dec':datum.value==87?'2026':datum.value==108?'Feb':datum.value==130?'Mar':datum.value==149?'Apr':datum.value==170?'May':'Jun'","title":null}},
  "y":{"field":"o","type":"quantitative","scale":{"domain":[21366,27232],"nice":false,"zero":false},"axis":{"orient":"right","values":[22000,23000,24000,25000,26000,27000],"format":",.2f","labelExpr":"datum.value==24000?'':datum.label","title":null}},"y2":{"field":"c"},
  "color":{"condition":{"test":"datum.c>=datum.o","value":"#089981"},"value":"#f23645"}}},
{"data":{"name":"circles"},
 "mark":{"type":"point","filled":true,"size":250,"color":"#9c27b0","opacity":1},
 "encoding":{"x":{"field":"i","type":"quantitative","scale":{"domain":[-16.73,208.7],"nice":false,"zero":false},"axis":{"values":[0,23,45,64,87,108,130,149,170,190],"labelExpr":"datum.value==0?'Sep':datum.value==23?'Oct':datum.value==45?'Nov':datum.value==64?'Dec':datum.value==87?'2026':datum.value==108?'Feb':datum.value==130?'Mar':datum.value==149?'Apr':datum.value==170?'May':'Jun'","title":null}},
  "y":{"field":"p","type":"quantitative","scale":{"domain":[21366,27232],"nice":false,"zero":false},"axis":{"orient":"right","values":[22000,23000,24000,25000,26000,27000],"format":",.2f","labelExpr":"datum.value==24000?'':datum.label","title":null}}}},
{"data":{"name":"labs"},
 "mark":{"type":"text","align":"right","baseline":"middle","font":"DejaVu Sans Mono","fontSize":11.2,"fontWeight":"bold"},
 "encoding":{"x":{"field":"i","type":"quantitative","scale":{"domain":[-16.73,208.7],"nice":false,"zero":false},"axis":{"values":[0,23,45,64,87,108,130,149,170,190],"labelExpr":"datum.value==0?'Sep':datum.value==23?'Oct':datum.value==45?'Nov':datum.value==64?'Dec':datum.value==87?'2026':datum.value==108?'Feb':datum.value==130?'Mar':datum.value==149?'Apr':datum.value==170?'May':'Jun'","title":null}},
  "y":{"field":"p","type":"quantitative","scale":{"domain":[21366,27232],"nice":false,"zero":false},"axis":{"orient":"right","values":[22000,23000,24000,25000,26000,27000],"format":",.2f","labelExpr":"datum.value==24000?'':datum.label","title":null}},
  "text":{"field":"t"},
  "color":{"field":"k","type":"nominal","scale":{"domain":["g","y","v"],"range":["#8bc34a","#ffeb3b","#8a2be2"]},"legend":null}}},
{"data":{"name":"rlabs"},
 "mark":{"type":"text","align":"right","baseline":"middle","font":"DejaVu Sans Mono","fontSize":11.2},
 "encoding":{"x":{"field":"i","type":"quantitative","scale":{"domain":[-16.73,208.7],"nice":false,"zero":false},"axis":{"values":[0,23,45,64,87,108,130,149,170,190],"labelExpr":"datum.value==0?'Sep':datum.value==23?'Oct':datum.value==45?'Nov':datum.value==64?'Dec':datum.value==87?'2026':datum.value==108?'Feb':datum.value==130?'Mar':datum.value==149?'Apr':datum.value==170?'May':'Jun'","title":null}},
  "y":{"field":"p","type":"quantitative","scale":{"domain":[21366,27232],"nice":false,"zero":false},"axis":{"orient":"right","values":[22000,23000,24000,25000,26000,27000],"format":",.2f","labelExpr":"datum.value==24000?'':datum.label","title":null}},
  "text":{"field":"t"},
  "color":{"field":"k","type":"nominal","scale":{"domain":["g","v"],"range":["#8bc34a","#8a2be2"]},"legend":null}}},
{"data":{"values":[{"a":-16.73,"b":208.7,"p":24052.85}]},
 "mark":{"type":"rule","color":"#e0393e","strokeWidth":1.3,"strokeDash":[6,4]},
 "encoding":{"x":{"field":"a","type":"quantitative","scale":{"domain":[-16.73,208.7],"nice":false,"zero":false},"axis":{"values":[0,23,45,64,87,108,130,149,170,190],"labelExpr":"datum.value==0?'Sep':datum.value==23?'Oct':datum.value==45?'Nov':datum.value==64?'Dec':datum.value==87?'2026':datum.value==108?'Feb':datum.value==130?'Mar':datum.value==149?'Apr':datum.value==170?'May':'Jun'","title":null}},"x2":{"field":"b"},
  "y":{"field":"p","type":"quantitative","scale":{"domain":[21366,27232],"nice":false,"zero":false},"axis":{"orient":"right","values":[22000,23000,24000,25000,26000,27000],"format":",.2f","labelExpr":"datum.value==24000?'':datum.label","title":null}}}},
{"data":{"values":[{"a":203.5,"b":207.5,"p1":24201,"p2":23912}]},
 "mark":{"type":"rect","color":"#e8393f"},
 "encoding":{"x":{"field":"a","type":"quantitative","scale":{"domain":[-16.73,208.7],"nice":false,"zero":false},"axis":{"values":[0,23,45,64,87,108,130,149,170,190],"labelExpr":"datum.value==0?'Sep':datum.value==23?'Oct':datum.value==45?'Nov':datum.value==64?'Dec':datum.value==87?'2026':datum.value==108?'Feb':datum.value==130?'Mar':datum.value==149?'Apr':datum.value==170?'May':'Jun'","title":null}},"x2":{"field":"b"},
  "y":{"field":"p1","type":"quantitative","scale":{"domain":[21366,27232],"nice":false,"zero":false},"axis":{"orient":"right","values":[22000,23000,24000,25000,26000,27000],"format":",.2f","labelExpr":"datum.value==24000?'':datum.label","title":null}},"y2":{"field":"p2"}}},
{"data":{"values":[{"i":205.5,"p":24056,"t":"LTP"}]},
 "mark":{"type":"text","align":"center","baseline":"middle","font":"Liberation Sans","fontSize":14,"color":"#ffffff"},
 "encoding":{"x":{"field":"i","type":"quantitative","scale":{"domain":[-16.73,208.7],"nice":false,"zero":false},"axis":{"values":[0,23,45,64,87,108,130,149,170,190],"labelExpr":"datum.value==0?'Sep':datum.value==23?'Oct':datum.value==45?'Nov':datum.value==64?'Dec':datum.value==87?'2026':datum.value==108?'Feb':datum.value==130?'Mar':datum.value==149?'Apr':datum.value==170?'May':'Jun'","title":null}},
  "y":{"field":"p","type":"quantitative","scale":{"domain":[21366,27232],"nice":false,"zero":false},"axis":{"orient":"right","values":[22000,23000,24000,25000,26000,27000],"format":",.2f","labelExpr":"datum.value==24000?'':datum.label","title":null}},"text":{"field":"t"}}},
{"data":{"values":[{"i":209.3,"p":24052.85}]},
 "mark":{"type":"point","shape":"triangle-left","filled":true,"size":160,"color":"#000000","stroke":"#ffffff","strokeWidth":1,"opacity":1},
 "encoding":{"x":{"field":"i","type":"quantitative","scale":{"domain":[-16.73,208.7],"nice":false,"zero":false},"axis":{"values":[0,23,45,64,87,108,130,149,170,190],"labelExpr":"datum.value==0?'Sep':datum.value==23?'Oct':datum.value==45?'Nov':datum.value==64?'Dec':datum.value==87?'2026':datum.value==108?'Feb':datum.value==130?'Mar':datum.value==149?'Apr':datum.value==170?'May':'Jun'","title":null}},
  "y":{"field":"p","type":"quantitative","scale":{"domain":[21366,27232],"nice":false,"zero":false},"axis":{"orient":"right","values":[22000,23000,24000,25000,26000,27000],"format":",.2f","labelExpr":"datum.value==24000?'':datum.label","title":null}}}},
{"data":{"values":[{"a":209.7,"b":219.5,"p1":24214,"p2":23880}]},
 "mark":{"type":"rect","fill":"#000000","stroke":"#ffffff","strokeWidth":1},
 "encoding":{"x":{"field":"a","type":"quantitative","scale":{"domain":[-16.73,208.7],"nice":false,"zero":false},"axis":{"values":[0,23,45,64,87,108,130,149,170,190],"labelExpr":"datum.value==0?'Sep':datum.value==23?'Oct':datum.value==45?'Nov':datum.value==64?'Dec':datum.value==87?'2026':datum.value==108?'Feb':datum.value==130?'Mar':datum.value==149?'Apr':datum.value==170?'May':'Jun'","title":null}},"x2":{"field":"b"},
  "y":{"field":"p1","type":"quantitative","scale":{"domain":[21366,27232],"nice":false,"zero":false},"axis":{"orient":"right","values":[22000,23000,24000,25000,26000,27000],"format":",.2f","labelExpr":"datum.value==24000?'':datum.label","title":null}},"y2":{"field":"p2"}}},
{"data":{"values":[{"i":214.6,"p":24047,"t":"24,052.85"}]},
 "mark":{"type":"text","align":"center","baseline":"middle","font":"Liberation Sans","fontSize":16,"color":"#ffffff"},
 "encoding":{"x":{"field":"i","type":"quantitative","scale":{"domain":[-16.73,208.7],"nice":false,"zero":false},"axis":{"values":[0,23,45,64,87,108,130,149,170,190],"labelExpr":"datum.value==0?'Sep':datum.value==23?'Oct':datum.value==45?'Nov':datum.value==64?'Dec':datum.value==87?'2026':datum.value==108?'Feb':datum.value==130?'Mar':datum.value==149?'Apr':datum.value==170?'May':'Jun'","title":null}},
  "y":{"field":"p","type":"quantitative","scale":{"domain":[21366,27232],"nice":false,"zero":false},"axis":{"orient":"right","values":[22000,23000,24000,25000,26000,27000],"format":",.2f","labelExpr":"datum.value==24000?'':datum.label","title":null}},"text":{"field":"t"}}},
{"data":{"name":"header"},
 "mark":{"type":"text","align":"left","baseline":"middle","font":"Liberation Sans","fontSize":14},
 "encoding":{"x":{"field":"i","type":"quantitative","scale":{"domain":[-16.73,208.7],"nice":false,"zero":false},"axis":{"values":[0,23,45,64,87,108,130,149,170,190],"labelExpr":"datum.value==0?'Sep':datum.value==23?'Oct':datum.value==45?'Nov':datum.value==64?'Dec':datum.value==87?'2026':datum.value==108?'Feb':datum.value==130?'Mar':datum.value==149?'Apr':datum.value==170?'May':'Jun'","title":null}},
  "y":{"field":"p","type":"quantitative","scale":{"domain":[21366,27232],"nice":false,"zero":false},"axis":{"orient":"right","values":[22000,23000,24000,25000,26000,27000],"format":",.2f","labelExpr":"datum.value==24000?'':datum.label","title":null}},
  "text":{"field":"t"},
  "color":{"field":"k","type":"nominal","scale":{"domain":["l","v"],"range":["#c9ccd4","#22ab94"]},"legend":null}}}
]
}
